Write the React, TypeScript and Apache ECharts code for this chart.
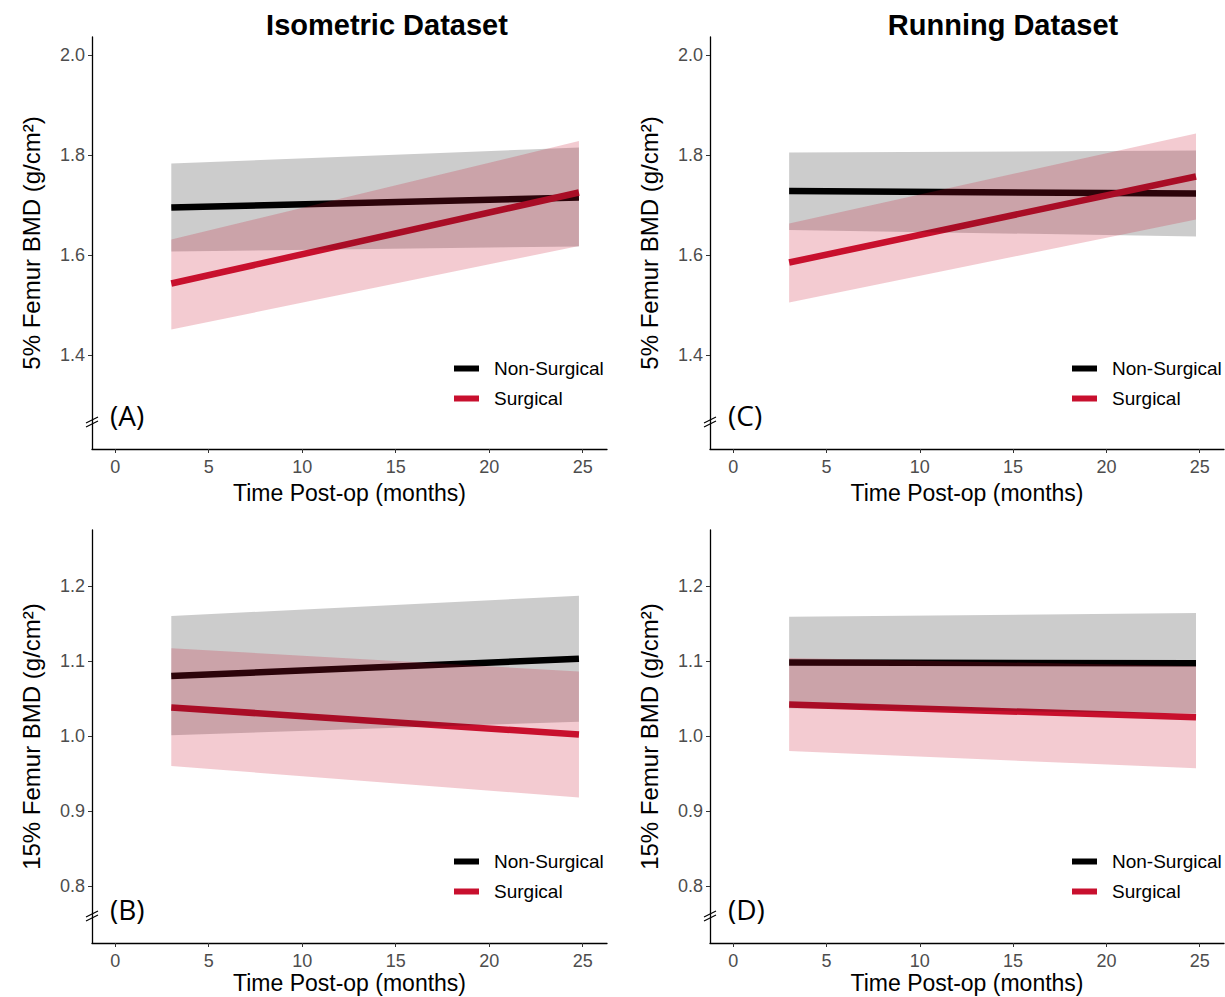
import React, { useEffect, useRef } from "react";
import * as echarts from "echarts";

const FONT = '"Liberation Sans", Arial, Helvetica, sans-serif';
const LETTER_FONT = '"Open Sans", "Noto Sans", sans-serif';
const RED = "#C8102E";

const datasetTitles = ["Isometric Dataset", "Running Dataset"];
const groupNames = ["Non-Surgical", "Surgical"];
const panelLetters = ["(A)", "(C)", "(B)", "(D)"];
const xTickValues = [0, 5, 10, 15, 20, 25];
const yTicks5 = [1.4, 1.6, 1.8, 2.0];
const yTicks15 = [0.8, 0.9, 1.0, 1.1, 1.2];
const yTitle5 = "5% Femur BMD (g/cm²)";
const yTitle15 = "15% Femur BMD (g/cm²)";
const xTitle = "Time Post-op (months)";

// rows: [month, fitted BMD, lower CI, upper CI]
const isoFemur5NonSurgical = [[3, 1.695, 1.607, 1.783], [24.8, 1.715, 1.617, 1.815]];
const isoFemur5Surgical = [[3, 1.543, 1.451, 1.631], [24.8, 1.725, 1.618, 1.828]];
const runFemur5NonSurgical = [[3, 1.728, 1.650, 1.805], [24.8, 1.723, 1.637, 1.809]];
const runFemur5Surgical = [[3, 1.585, 1.505, 1.663], [24.8, 1.757, 1.671, 1.843]];
const isoFemur15NonSurgical = [[3, 1.080, 1.001, 1.160], [24.8, 1.103, 1.019, 1.187]];
const isoFemur15Surgical = [[3, 1.038, 0.960, 1.117], [24.8, 1.002, 0.918, 1.086]];
const runFemur15NonSurgical = [[3, 1.098, 1.037, 1.159], [24.8, 1.097, 1.030, 1.164]];
const runFemur15Surgical = [[3, 1.042, 0.980, 1.104], [24.8, 1.025, 0.957, 1.093]];

const panels = [
  { letter: panelLetters[0], nonS: isoFemur5NonSurgical, surg: isoFemur5Surgical, yTicks: yTicks5, yTitle: yTitle5,
    left: 92, width: 515, top: 37, height: 412, yMin: 1.212, yMax: 2.036, legendLeft: 454, legendTop: 359, xNameGap: 32 },
  { letter: panelLetters[1], nonS: runFemur5NonSurgical, surg: runFemur5Surgical, yTicks: yTicks5, yTitle: yTitle5,
    left: 710, width: 514, top: 37, height: 412, yMin: 1.212, yMax: 2.036, legendLeft: 1072, legendTop: 359, xNameGap: 32 },
  { letter: panelLetters[2], nonS: isoFemur15NonSurgical, surg: isoFemur15Surgical, yTicks: yTicks15, yTitle: yTitle15,
    left: 92, width: 515, top: 530, height: 413, yMin: 0.724, yMax: 1.2747, legendLeft: 454, legendTop: 852, xNameGap: 28 },
  { letter: panelLetters[3], nonS: runFemur15NonSurgical, surg: runFemur15Surgical, yTicks: yTicks15, yTitle: yTitle15,
    left: 710, width: 514, top: 530, height: 413, yMin: 0.724, yMax: 1.2747, legendLeft: 1072, legendTop: 852, xNameGap: 28 },
];

function ribbon(rows: number[][], fill: string, idx: number, name: string) {
  return {
    type: "custom",
    name,
    xAxisIndex: idx,
    yAxisIndex: idx,
    silent: true,
    z: 3,
    data: rows.map((r) => [r[0], r[2], r[3]]),
    encode: { x: 0, y: [1, 2] },
    renderItem: (params: any, api: any) => {
      if (params.dataIndex !== 0) return null;
      const upper = rows.map((r) => api.coord([r[0], r[3]]));
      const lower = rows.map((r) => api.coord([r[0], r[2]])).reverse();
      return {
        type: "polygon",
        shape: { points: upper.concat(lower) },
        style: { fill },
        silent: true,
      };
    },
  };
}

function fitLine(rows: number[][], color: string, idx: number, name: string) {
  return {
    type: "line",
    name,
    xAxisIndex: idx,
    yAxisIndex: idx,
    silent: true,
    z: 2,
    symbol: "none",
    data: rows.map((r) => [r[0], r[1]]),
    lineStyle: { color, width: 6.5, cap: "butt" },
    itemStyle: { color },
  };
}

export default function App() {
  const ref = useRef<HTMLDivElement>(null);
  useEffect(() => {
    const chart = echarts.init(ref.current!, null, { renderer: "svg" });
    const series: any[] = [];
    panels.forEach((p, i) => {
      series.push(fitLine(p.nonS, "#000000", i, groupNames[0]));
      series.push(fitLine(p.surg, RED, i, groupNames[1]));
    });
    panels.forEach((p, i) => {
      series.push(ribbon(p.nonS, "rgba(0,0,0,0.2)", i, groupNames[0] + " CI"));
      series.push(ribbon(p.surg, "rgba(200,16,46,0.22)", i, groupNames[1] + " CI"));
    });

    const graphic: any[] = [];
    panels.forEach((p) => {
      const ax = p.left;
      const bottom = p.top + p.height;
      graphic.push({
        type: "text",
        x: ax + 18,
        y: bottom - 34,
        style: {
          text: p.letter,
          font: `28px ${LETTER_FONT}`,
          fill: "#000",
          align: "left",
          verticalAlign: "middle",
          textAlign: "left",
          textVerticalAlign: "middle",
        },
      });
      const by = bottom - 27;
      graphic.push({
        type: "line",
        shape: { x1: ax - 6, y1: by + 1, x2: ax + 6, y2: by - 5 },
        style: { stroke: "#000", lineWidth: 1.2 },
      });
      graphic.push({
        type: "line",
        shape: { x1: ax - 6, y1: by + 5, x2: ax + 6, y2: by - 1 },
        style: { stroke: "#000", lineWidth: 1.2 },
      });
    });

    const option: any = {
      animation: false,
      backgroundColor: "#ffffff",
      textStyle: { fontFamily: FONT },
      title: [
        { text: datasetTitles[0], left: 382, top: 5, textAlign: "center",
          textStyle: { fontSize: 29, fontWeight: "bold", color: "#000", fontFamily: FONT } },
        { text: datasetTitles[1], left: 998, top: 5, textAlign: "center",
          textStyle: { fontSize: 29, fontWeight: "bold", color: "#000", fontFamily: FONT } },
      ],
      grid: panels.map((p) => ({
        left: p.left, top: p.top, width: p.width, height: p.height,
        containLabel: false, outerBoundsMode: "none",
      })),
      xAxis: panels.map((p, i) => ({
        type: "value",
        gridIndex: i,
        min: -1.24,
        max: 26.3,
        name: xTitle,
        nameLocation: "middle",
        nameGap: p.xNameGap,
        nameTextStyle: { fontSize: 23, color: "#000", fontFamily: FONT },
        axisLine: { show: true, onZero: false, lineStyle: { color: "#000", width: 1.3 } },
        axisTick: { show: true, inside: false, length: 4, customValues: xTickValues, lineStyle: { color: "#333", width: 1 } },
        axisLabel: { show: true, customValues: xTickValues, fontSize: 18, color: "#4d4d4d", fontFamily: FONT, margin: 9 },
        splitLine: { show: false },
      })),
      yAxis: panels.map((p, i) => ({
        type: "value",
        gridIndex: i,
        min: p.yMin,
        max: p.yMax,
        name: p.yTitle,
        nameLocation: "middle",
        nameRotate: 90,
        nameGap: 49,
        nameTextStyle: { fontSize: 24, color: "#000", fontFamily: FONT },
        axisLine: { show: true, onZero: false, lineStyle: { color: "#000", width: 1.3 } },
        axisTick: { show: true, inside: false, length: 4, customValues: p.yTicks, lineStyle: { color: "#333", width: 1 } },
        axisLabel: {
          show: true, customValues: p.yTicks, fontSize: 18, color: "#4d4d4d", fontFamily: FONT, margin: 7,
          formatter: (v: number) => v.toFixed(1),
        },
        splitLine: { show: false },
      })),
      legend: panels.map((p) => ({
        data: groupNames.map((name) => ({ name, icon: "rect" })),
        orient: "vertical",
        left: p.legendLeft,
        top: p.legendTop,
        itemWidth: 25,
        itemHeight: 6,
        itemGap: 11,
        padding: 0,
        selectedMode: false,
        textStyle: { fontSize: 19, color: "#000", fontFamily: FONT, padding: [0, 0, 0, 10] },
      })),
      graphic,
      series,
    };
    chart.setOption(option);
    return () => chart.dispose();
  }, []);
  return (
    <div
      ref={ref}
      style={{ position: "absolute", left: 0, top: 0, width: 1225, height: 997 }}
    />
  );
}
